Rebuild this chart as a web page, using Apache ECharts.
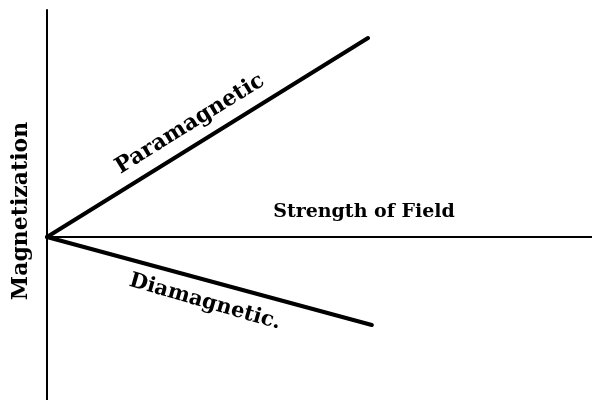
<!DOCTYPE html>
<html>
<head>
<meta charset="utf-8">
<script src="https://cdn.jsdelivr.net/npm/echarts@6/dist/echarts.min.js"></script>
<style>
  html, body { margin: 0; padding: 0; background: #fff; }
  #main { width: 592px; height: 400px; }
</style>
</head>
<body>
<div id="main"></div>
<script>
// field strength (arbitrary units) and magnetization for each kind of material
var paraField = [0, 58.9];
var paraMag = [0, 19.9];
var diaField = [0, 59.6];
var diaMag = [0, -8.8];

var axisTitles = ['Strength of Field', 'Magnetization'];
var lineLabels = ['Paramagnetic', 'Diamagnetic.'];

function pairs(xs, ys) {
    return xs.map(function (x, i) { return [x, ys[i]]; });
}

var FONT = '"DejaVu Serif", "Liberation Serif", serif';

var myChart = echarts.init(document.getElementById('main'));
myChart.setOption({
    animation: false,
    backgroundColor: '#fff',
    grid: { left: 47, right: 0, top: 10, bottom: 0 },
    xAxis: {
        type: 'value',
        min: 0,
        max: 100,
        axisLine: { onZero: true, lineStyle: { color: '#000', width: 2 } },
        axisTick: { show: false },
        axisLabel: { show: false },
        splitLine: { show: false }
    },
    yAxis: {
        type: 'value',
        min: -16.3,
        max: 22.7,
        name: axisTitles[1],
        nameLocation: 'middle',
        nameRotate: 90,
        nameGap: 15,
        nameTextStyle: {
            fontFamily: FONT, fontWeight: 'bold', fontSize: 22, color: '#000',
            padding: [0, 12, 0, 0]
        },
        axisLine: { onZero: false, lineStyle: { color: '#000', width: 2 } },
        axisTick: { show: false },
        axisLabel: { show: false },
        splitLine: { show: false }
    },
    series: [{
        type: 'line',
        name: lineLabels[0],
        data: pairs(paraField, paraMag),
        symbol: 'none',
        lineStyle: { color: '#000', width: 4, cap: 'round' }
    }, {
        type: 'line',
        name: lineLabels[1],
        data: pairs(diaField, diaMag),
        symbol: 'none',
        lineStyle: { color: '#000', width: 4, cap: 'round' }
    }],
    graphic: [{
        type: 'text',
        x: 364, y: 212,
        style: {
            text: axisTitles[0], fontFamily: FONT, fontWeight: 'bold', fontSize: 19,
            fill: '#000', align: 'center', verticalAlign: 'middle'
        }
    }, {
        type: 'text',
        x: 190, y: 124,
        rotation: 0.555,
        style: {
            text: lineLabels[0], fontFamily: FONT, fontWeight: 'bold', fontSize: 22,
            fill: '#000', align: 'center', verticalAlign: 'middle'
        }
    }, {
        type: 'text',
        x: 205, y: 302,
        rotation: -0.28,
        style: {
            text: lineLabels[1], fontFamily: FONT, fontWeight: 'bold', fontSize: 21,
            fill: '#000', align: 'center', verticalAlign: 'middle'
        }
    }]
});
</script>
</body>
</html>
